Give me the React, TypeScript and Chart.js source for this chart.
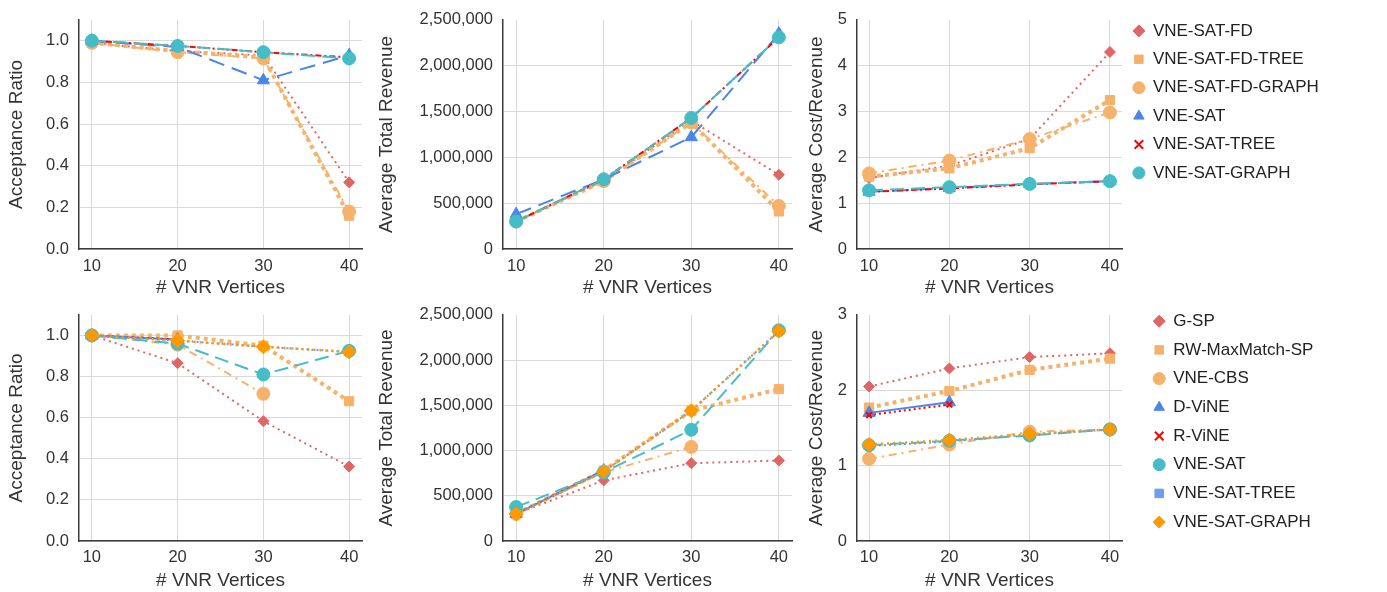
import React, { useEffect, useRef } from 'react';
import Chart from 'chart.js/auto';

// ---------- data ----------
const vnrVertices = [10, 20, 30, 40];

const acceptanceTicks = [0, 0.2, 0.4, 0.6, 0.8, 1.0];
const revenueTicks = [0, 500000, 1000000, 1500000, 2000000, 2500000];
const costTicksTop = [0, 1, 2, 3, 4, 5];
const costTicksBottom = [0, 1, 2, 3];

const topSeriesNames = ['VNE-SAT-FD', 'VNE-SAT-FD-TREE', 'VNE-SAT-FD-GRAPH', 'VNE-SAT', 'VNE-SAT-TREE', 'VNE-SAT-GRAPH'];
const bottomSeriesNames = ['G-SP', 'RW-MaxMatch-SP', 'VNE-CBS', 'D-ViNE', 'R-ViNE', 'VNE-SAT', 'VNE-SAT-TREE', 'VNE-SAT-GRAPH'];

// top row: acceptance ratio
const topAccFD = [0.99, 0.95, 0.93, 0.32];
const topAccFDTree = [0.99, 0.95, 0.92, 0.16];
const topAccFDGraph = [0.99, 0.945, 0.915, 0.18];
const topAccSAT = [1.0, 0.97, 0.81, 0.93];
const topAccSATTree = [1.0, 0.975, 0.945, 0.92];
const topAccSATGraph = [1.0, 0.975, 0.945, 0.915];

// top row: average total revenue
const topRevFD = [300000, 750000, 1400000, 810000];
const topRevFDTree = [300000, 740000, 1380000, 410000];
const topRevFDGraph = [300000, 740000, 1380000, 470000];
const topRevSAT = [380000, 760000, 1220000, 2350000];
const topRevSATTree = [300000, 760000, 1430000, 2310000];
const topRevSATGraph = [300000, 760000, 1430000, 2310000];

// top row: average cost / revenue
const topCostFD = [1.55, 1.82, 2.4, 4.3];
const topCostFDTree = [1.58, 1.76, 2.2, 3.25];
const topCostFDGraph = [1.65, 1.93, 2.4, 2.98];
const topCostSAT = [1.25, 1.33, 1.42, 1.48];
const topCostSATTree = [1.25, 1.32, 1.41, 1.48];
const topCostSATGraph = [1.28, 1.35, 1.42, 1.48];

// bottom row: acceptance ratio
const botAccGSP = [1.0, 0.865, 0.583, 0.362];
const botAccRW = [1.0, 1.0, 0.95, 0.68];
const botAccCBS = [1.0, 0.955, 0.716, null];
const botAccDViNE = [1.0, 0.98, null, null];
const botAccRViNE = [1.0, 0.98, null, null];
const botAccSAT = [1.0, 0.96, 0.81, 0.925];
const botAccSATTree = [1.0, 0.975, 0.945, 0.92];
const botAccSATGraph = [1.0, 0.975, 0.945, 0.92];

// bottom row: average total revenue
const botRevGSP = [300000, 670000, 860000, 890000];
const botRevRW = [300000, 780000, 1440000, 1680000];
const botRevCBS = [300000, 760000, 1040000, null];
const botRevDViNE = [300000, 780000, null, null];
const botRevRViNE = [300000, 780000, null, null];
const botRevSAT = [375000, 760000, 1230000, 2330000];
const botRevSATTree = [300000, 770000, 1440000, 2320000];
const botRevSATGraph = [300000, 770000, 1440000, 2320000];

// bottom row: average cost / revenue
const botCostGSP = [2.05, 2.29, 2.44, 2.49];
const botCostRW = [1.77, 1.99, 2.27, 2.42];
const botCostCBS = [1.09, 1.28, 1.45, 1.48];
const botCostDViNE = [1.7, 1.84, null, null];
const botCostRViNE = [1.67, 1.81, null, null];
const botCostSAT = [1.27, 1.33, 1.4, 1.48];
const botCostSATTree = [1.26, 1.32, 1.41, 1.48];
const botCostSATGraph = [1.28, 1.34, 1.42, 1.48];

// ---------- styles ----------
type SeriesStyle = { color: string; point: string; radius: number; dash: number[]; width: number; legendRadiusBox?: number };

const topStyles: SeriesStyle[] = [
  { color: '#e06666', point: 'rectRot', radius: 5.5, dash: [2, 4], width: 2 },
  { color: '#f6b26b', point: 'rect', radius: 6.5, dash: [4, 4], width: 4 },
  { color: '#f6b26b', point: 'circle', radius: 6.5, dash: [8, 5, 2, 5], width: 2 },
  { color: '#4a86e8', point: 'triangle', radius: 7, dash: [16, 8], width: 2 },
  { color: '#ff0000', point: 'crossRot', radius: 4, dash: [6, 3, 2, 3], width: 2 },
  { color: '#46bdc6', point: 'circle', radius: 6.5, dash: [14, 7], width: 2 },
];

const bottomStyles: SeriesStyle[] = [
  { color: '#e06666', point: 'rectRot', radius: 5.5, dash: [2, 4], width: 2 },
  { color: '#f6b26b', point: 'rect', radius: 6.5, dash: [4, 4], width: 4 },
  { color: '#f6b26b', point: 'circle', radius: 6.5, dash: [8, 5, 2, 5], width: 2 },
  { color: '#4a86e8', point: 'triangle', radius: 7, dash: [], width: 2 },
  { color: '#ff0000', point: 'crossRot', radius: 4, dash: [2, 3], width: 2 },
  { color: '#46bdc6', point: 'circle', radius: 6.5, dash: [14, 7], width: 2 },
  { color: '#6d9eeb', point: 'rect', radius: 4.5, dash: [2, 3], width: 2 },
  { color: '#ff9900', point: 'rectRot', radius: 7, dash: [2, 4], width: 2.5 },
];

const FONT = "'Liberation Sans', Arial, sans-serif";
const TEXT = '#333333';
const GRID = '#d9d9d9';
const AXIS = '#3c3c3c';

const fmtAcc = (v: number) => v.toFixed(1);
const fmtRev = (v: number) => Math.round(v).toLocaleString('en-US');
const fmtCost = (v: number) => String(v);

type PanelProps = {
  left: number; top: number; width: number; height: number;
  names: string[]; series: (number | null)[][]; styles: SeriesStyle[];
  yTicks: number[]; yMax: number; yTitle: string; fmt: (v: number) => string;
  yWidth: number; padTop: number; padRight: number; xHeight: number; xTickPad: number; xTitlePad: number;
};

function Panel(p: PanelProps) {
  const ref = useRef<HTMLCanvasElement>(null);
  useEffect(() => {
    const n = p.series.length;
    const chart = new Chart(ref.current as HTMLCanvasElement, {
      type: 'line',
      data: {
        datasets: p.series.map((vals, i) => {
          const s = p.styles[i];
          return {
            label: p.names[i],
            data: vnrVertices.map((x, j) => ({ x, y: vals[j] })),
            borderColor: s.color,
            backgroundColor: s.color,
            borderWidth: s.width,
            borderDash: s.dash,
            pointStyle: s.point,
            pointRadius: s.radius,
            pointBackgroundColor: s.color,
            pointBorderColor: s.color,
            pointBorderWidth: s.point === 'crossRot' ? 2 : 1,
            tension: 0,
            fill: false,
            spanGaps: false,
            clip: false,
            order: n - i,
          } as any;
        }),
      },
      options: {
        animation: false,
        responsive: false,
        events: [],
        layout: { padding: { top: p.padTop, right: p.padRight, left: 0, bottom: 0 } },
        plugins: { legend: { display: false }, tooltip: { enabled: false } },
        scales: {
          x: {
            type: 'linear',
            min: 8.5,
            max: 41.5,
            afterBuildTicks: (s: any) => { s.ticks = vnrVertices.map((v) => ({ value: v })); },
            afterFit: (s: any) => { s.height = p.xHeight; },
            grid: { color: GRID, lineWidth: 1, drawTicks: false },
            border: { display: true, color: AXIS, width: 1.5 },
            ticks: { color: TEXT, font: { family: FONT, size: 16.5 }, padding: p.xTickPad, maxRotation: 0, autoSkip: false },
            title: { display: true, text: '# VNR Vertices', color: TEXT, font: { family: FONT, size: 19 }, padding: { top: 0, bottom: p.xTitlePad } },
          },
          y: {
            type: 'linear',
            min: 0,
            max: p.yMax,
            afterBuildTicks: (s: any) => { s.ticks = p.yTicks.map((v) => ({ value: v })); },
            afterFit: (s: any) => { s.width = p.yWidth; },
            grid: {
              color: (c: any) => (c.tick && c.tick.value === p.yMax ? 'rgba(0,0,0,0)' : GRID),
              lineWidth: 1,
              drawTicks: false,
            },
            border: { display: true, color: AXIS, width: 1.5 },
            ticks: { color: TEXT, font: { family: FONT, size: 16.5 }, padding: 10, callback: (v: any) => p.fmt(Number(v)) },
            title: { display: true, text: p.yTitle, color: TEXT, font: { family: FONT, size: 19 }, padding: { top: 5, bottom: 0 } },
          },
        },
      } as any,
    });
    return () => chart.destroy();
  }, []);
  return (
    <canvas
      ref={ref}
      width={p.width}
      height={p.height}
      style={{ position: 'absolute', left: p.left, top: p.top, width: p.width, height: p.height }}
    />
  );
}

type LegendProps = { left: number; top: number; width: number; height: number; names: string[]; styles: SeriesStyle[]; gap: number };

function LegendBox(p: LegendProps) {
  const ref = useRef<HTMLCanvasElement>(null);
  useEffect(() => {
    const chart = new Chart(ref.current as HTMLCanvasElement, {
      type: 'line',
      data: { labels: [], datasets: [] },
      options: {
        animation: false,
        responsive: false,
        events: [],
        layout: { padding: 0 },
        scales: { x: { display: false }, y: { display: false } },
        plugins: {
          tooltip: { enabled: false },
          legend: {
            display: true,
            position: 'left',
            align: 'start',
            maxWidth: 600,
            onClick: () => {},
            labels: {
              usePointStyle: true,
              boxWidth: 11,
              boxHeight: 8.5,
              padding: p.gap,
              color: '#222222',
              font: { family: FONT, size: 17 },
              generateLabels: () =>
                p.names.map((name, i) => {
                  const s = p.styles[i];
                  return {
                    text: name,
                    fillStyle: s.color,
                    strokeStyle: s.color,
                    lineWidth: s.point === 'crossRot' ? 2 : 1,
                    pointStyle: s.point,
                    hidden: false,
                    datasetIndex: i,
                    fontColor: '#222222',
                  };
                }),
            },
          },
        },
      } as any,
    });
    return () => chart.destroy();
  }, []);
  return (
    <canvas
      ref={ref}
      width={p.width}
      height={p.height}
      style={{ position: 'absolute', left: p.left, top: p.top, width: p.width, height: p.height }}
    />
  );
}

export default function App() {
  const topRow = { top: 0, height: 300, padTop: 15, xHeight: 51, xTickPad: 8, xTitlePad: 1 };
  const botRow = { top: 295, height: 297, padTop: 11, xHeight: 51, xTickPad: 7, xTitlePad: 0 };
  const colL = { left: 0, width: 370, yWidth: 79, padRight: 7 };
  const colM = { left: 370, width: 430, yWidth: 133, padRight: 0 };
  const colR = { left: 800, width: 330, yWidth: 57, padRight: 3 };

  return (
    <div style={{ position: 'absolute', left: 0, top: 0, width: 1387, height: 592, background: '#ffffff', overflow: 'hidden' }}>
      <Panel {...topRow} {...colL} names={topSeriesNames} styles={topStyles}
        series={[topAccFD, topAccFDTree, topAccFDGraph, topAccSAT, topAccSATTree, topAccSATGraph]}
        yTicks={acceptanceTicks} yMax={1.1} yTitle="Acceptance Ratio" fmt={fmtAcc} />
      <Panel {...topRow} {...colM} names={topSeriesNames} styles={topStyles}
        series={[topRevFD, topRevFDTree, topRevFDGraph, topRevSAT, topRevSATTree, topRevSATGraph]}
        yTicks={revenueTicks} yMax={2500000} yTitle="Average Total Revenue" fmt={fmtRev} />
      <Panel {...topRow} {...colR} names={topSeriesNames} styles={topStyles}
        series={[topCostFD, topCostFDTree, topCostFDGraph, topCostSAT, topCostSATTree, topCostSATGraph]}
        yTicks={costTicksTop} yMax={5} yTitle="Average Cost/Revenue" fmt={fmtCost} />
      <LegendBox left={1122} top={11} width={265} height={230} names={topSeriesNames} styles={topStyles} gap={11.4} />

      <Panel {...botRow} {...colL} names={bottomSeriesNames} styles={bottomStyles}
        series={[botAccGSP, botAccRW, botAccCBS, botAccDViNE, botAccRViNE, botAccSAT, botAccSATTree, botAccSATGraph]}
        yTicks={acceptanceTicks} yMax={1.1} yTitle="Acceptance Ratio" fmt={fmtAcc} />
      <Panel {...botRow} {...colM} names={bottomSeriesNames} styles={bottomStyles}
        series={[botRevGSP, botRevRW, botRevCBS, botRevDViNE, botRevRViNE, botRevSAT, botRevSATTree, botRevSATGraph]}
        yTicks={revenueTicks} yMax={2500000} yTitle="Average Total Revenue" fmt={fmtRev} />
      <Panel {...botRow} {...colR} names={bottomSeriesNames} styles={bottomStyles}
        series={[botCostGSP, botCostRW, botCostCBS, botCostDViNE, botCostRViNE, botCostSAT, botCostSATTree, botCostSATGraph]}
        yTicks={costTicksBottom} yMax={3} yTitle="Average Cost/Revenue" fmt={fmtCost} />
      <LegendBox left={1142} top={301} width={245} height={290} names={bottomSeriesNames} styles={bottomStyles} gap={11.7} />
    </div>
  );
}
